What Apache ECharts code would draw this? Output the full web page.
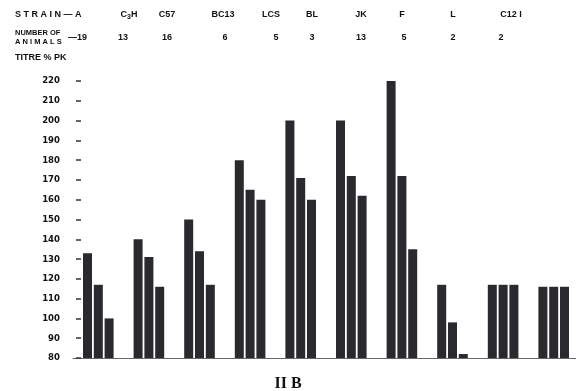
<!DOCTYPE html>
<html>
<head>
<meta charset="utf-8">
<script src="https://cdn.jsdelivr.net/npm/echarts@6/dist/echarts.min.js"></script>
<style>html,body{margin:0;padding:0;background:#fff}#c{width:576px;height:391px}</style>
</head>
<body>
<div id="c"></div>
<script>
// ---- data ----
const strains = ['A', 'C3H', 'C57', 'BC13', 'LCS', 'BL', 'JK', 'F', 'L', 'C12 I'];
const animals = [19, 13, 16, 6, 5, 3, 13, 5, 2, 2];
const titreBar1 = [133, 140, 150, 180, 200, 200, 220, 117, 117, 116];
const titreBar2 = [117, 131, 134, 165, 171, 172, 172, 98, 117, 116];
const titreBar3 = [100, 116, 117, 160, 160, 162, 135, 82, 117, 116];
const yTicks = { min: 80, max: 220, step: 10 };

// ---- layout (header text positions, px) ----
const headerX = [null, 129, 167, 223, 271, 312, 361, 402, 453, 511];
const countX = [null, 123, 167, 225, 276, 312, 361, 404, 453, 501];

const chart = echarts.init(document.getElementById('c'), null, { renderer: 'canvas' });
const barColor = '#2a2a2e';
const font = 'bold 9px "Liberation Sans", Arial, sans-serif';

const graphics = [];
graphics.push({ type: 'text', left: 15, top: 10, style: { text: 'S T R A I N — ' + strains[0], font: font, fill: '#111' } });
graphics.push({ type: 'text', left: 15, top: 28, style: { text: 'NUMBER OF\nA N I M A L S', font: 'bold 7.5px "Liberation Sans", Arial, sans-serif', fill: '#111', lineHeight: 9 } });
graphics.push({ type: 'text', left: 68, top: 33, style: { text: '—' + animals[0], font: font, fill: '#111' } });
graphics.push({ type: 'text', left: 15, top: 53, style: { text: 'TITRE % PK', font: font, fill: '#111' } });
for (let i = 1; i < strains.length; i++) {
  let txt = strains[i];
  let rich = null;
  if (txt === 'C3H') {
    txt = '{n|C}{s|3}{n|H}';
    rich = { n: { font: font, fill: '#111' }, s: { font: 'bold 7px "Liberation Sans", Arial, sans-serif', fill: '#111', padding: [4, 0, 0, 0] } };
  }
  const st = { text: txt, font: font, fill: '#111', align: 'center', verticalAlign: 'middle', x: headerX[i], y: 15 };
  if (rich) st.rich = rich;
  graphics.push({ type: 'text', style: st });
  graphics.push({ type: 'text', style: { text: String(animals[i]), font: font, fill: '#111', align: 'center', verticalAlign: 'middle', x: countX[i], y: 37.5 } });
}

const mkSeries = (data) => ({
  type: 'bar',
  data: data,
  barWidth: 9,
  barGap: '20%',
  clip: true,
  itemStyle: { color: barColor },
  silent: true,
  animation: false
});

chart.setOption({
  animation: false,
  backgroundColor: '#fff',
  title: {
    text: 'II B',
    left: 'center',
    top: 371,
    textStyle: { fontFamily: '"Liberation Serif", "DejaVu Serif", serif', fontWeight: 'bold', fontSize: 16, color: '#111' }
  },
  grid: { left: 73, right: -3, top: 81, bottom: 33, containLabel: false, outerBoundsMode: 'none' },
  xAxis: {
    type: 'category',
    data: strains,
    axisLabel: { show: false },
    axisTick: { show: false },
    axisLine: { show: true, lineStyle: { color: '#666', width: 1 } },
    splitLine: { show: false }
  },
  yAxis: {
    type: 'value',
    min: yTicks.min,
    max: yTicks.max,
    interval: yTicks.step,
    offset: -3,
    axisLine: { show: false },
    axisTick: { show: true, inside: true, length: 5, lineStyle: { color: '#333', width: 1.5 } },
    axisLabel: { margin: 16, color: '#111', fontWeight: 'bold', fontSize: 9.5, fontFamily: '"DejaVu Sans Condensed", "Liberation Sans Narrow", "DejaVu Sans", sans-serif' },
    splitLine: { show: false }
  },
  series: [mkSeries(titreBar1), mkSeries(titreBar2), mkSeries(titreBar3)],
  graphic: graphics
});
</script>
</body>
</html>
